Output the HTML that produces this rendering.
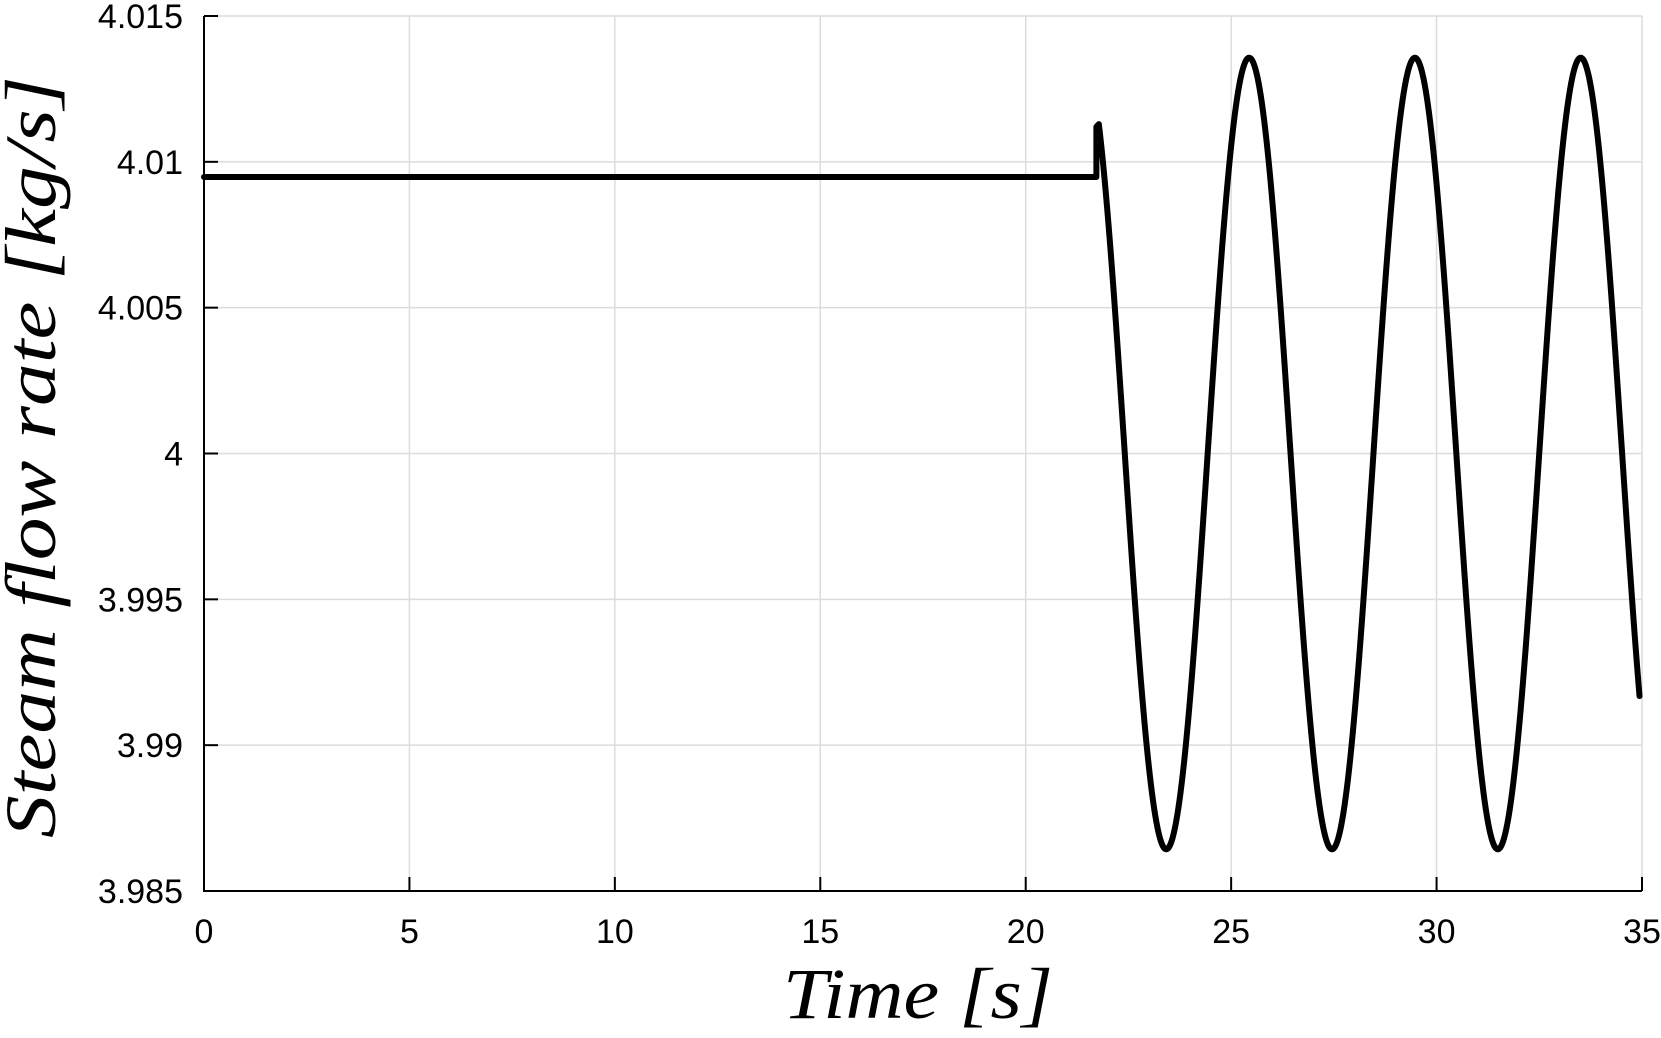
<!DOCTYPE html>
<html><head><meta charset="utf-8"><style>
html,body{margin:0;padding:0;background:#fff;width:1661px;height:1038px;overflow:hidden}
svg{display:block}
text{font-family:"Liberation Sans",sans-serif;fill:#000}
.lab{font-family:"Liberation Serif",serif;font-style:italic}
</style></head><body>
<svg id="s" width="1661" height="1038" viewBox="0 0 1661 1038" xmlns="http://www.w3.org/2000/svg">
<g stroke="#dcdcdc" stroke-width="1.5" id="grid"></g>
<g id="ticks" stroke="#000" stroke-width="2"></g>
<path id="curve" fill="none" stroke="#000" stroke-width="6" stroke-linejoin="round" stroke-linecap="round"/>
<polyline points="204,16 204,891 1642,891" fill="none" stroke="#000" stroke-width="2"/>
<g id="lbl" font-size="34"></g>
<text class="lab" x="918" y="1018" font-size="72" text-anchor="middle" textLength="270" lengthAdjust="spacingAndGlyphs">Time [s]</text>
<text class="lab" transform="translate(55,457) rotate(-90)" font-size="72" text-anchor="middle" textLength="762" lengthAdjust="spacingAndGlyphs">Steam flow rate [kg/s]</text>
</svg>
<script>
var L=204,R=1642,T=16,B=891;
function X(t){return L+(R-L)*t/35}
function Y(v){return T+(4.015-v)/0.03*(B-T)}
var ns="http://www.w3.org/2000/svg",g=document.getElementById('grid'),tk=document.getElementById('ticks'),lb=document.getElementById('lbl');
function el(p,n,a,txt){var e=document.createElementNS(ns,n);for(var k in a)e.setAttribute(k,a[k]);if(txt)e.textContent=txt;p.appendChild(e);}
for(var i=0;i<=7;i++){var x=X(i*5);
 if(i>0)el(g,'line',{x1:x,y1:T,x2:x,y2:B});
 el(tk,'line',{x1:x,y1:B,x2:x,y2:B-14});
 el(lb,'text',{x:x,y:943,'text-anchor':'middle'},String(i*5));}
var yl=['3.985','3.99','3.995','4','4.005','4.01','4.015'];
for(var j=0;j<7;j++){var v=3.985+j*0.005,y=Y(v);
 if(j>0)el(g,'line',{x1:L,y1:y,x2:R,y2:y});
 el(tk,'line',{x1:L,y1:y,x2:L+14,y2:y});
 el(lb,'text',{x:183,y:y+12,'text-anchor':'end'},yl[j]);}
var d='M'+X(0)+','+Y(4.00948)+' L'+X(21.72)+','+Y(4.00948)+' L'+X(21.72)+','+Y(4.0112);
var P=4.035,t0=23.42,A=0.01357;
for(var t=21.78;t<=34.96;t+=0.02){var v=4-A*Math.cos(2*Math.PI*(t-t0)/P);d+=' L'+X(t).toFixed(2)+','+Y(v).toFixed(2);}
document.getElementById('curve').setAttribute('d',d);
</script>
</body></html>
